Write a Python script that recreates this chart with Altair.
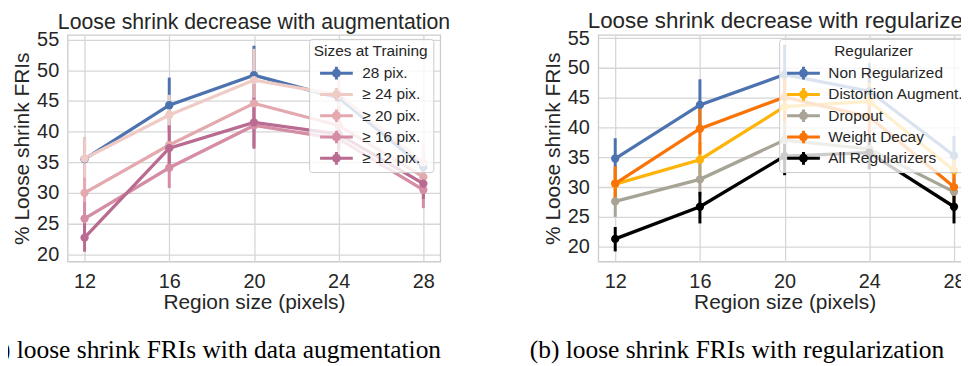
import altair as alt
import pandas as pd

# ---------------- data ----------------
region_sizes = [12, 16, 20, 24, 28]
y_ticks = [20, 25, 30, 35, 40, 45, 50, 55]

# Left panel: sizes at training
aug_series = ["28 pix.", "\u00a0≥ 24 pix.", "\u00a0≥ 20 pix.", "\u00a0≥ 16 pix.", "\u00a0≥ 12 pix."]
aug_colors = ["#4c72b0", "#efcbc6", "#e3a9ae", "#d48da3", "#b96b91"]
aug_28_mean = [35.5, 44.3, 49.2, 45.5, 34.2]
aug_28_lo = [32.0, 40.2, 44.6, 41.5, 31.5]
aug_28_hi = [39.0, 48.8, 54.0, 50.0, 37.2]
aug_24_mean = [35.6, 42.7, 48.4, 46.0, 35.0]
aug_24_lo = [32.0, 39.5, 43.5, 42.0, 32.0]
aug_24_hi = [39.0, 46.0, 53.5, 50.5, 38.0]
aug_20_mean = [30.0, 37.8, 44.6, 41.0, 32.6]
aug_20_lo = [27.5, 34.5, 40.0, 38.0, 30.5]
aug_20_hi = [32.5, 41.0, 49.0, 44.0, 34.5]
aug_16_mean = [25.8, 34.1, 41.0, 38.8, 30.5]
aug_16_lo = [23.5, 30.8, 37.5, 36.0, 27.5]
aug_16_hi = [28.5, 37.5, 44.5, 41.5, 33.0]
aug_12_mean = [22.7, 37.3, 41.5, 39.6, 31.5]
aug_12_lo = [20.4, 34.0, 37.2, 37.0, 29.0]
aug_12_hi = [25.0, 41.0, 45.5, 42.5, 34.0]

# Right panel: regularizers
reg_series = ["Non Regularized", "Distortion Augment.", "Dropout", "Weight Decay", "All Regularizers"]
reg_colors = ["#4c72b0", "#feb308", "#a8a495", "#f97306", "#000000"]
reg_non_mean = [34.8, 43.8, 48.9, 46.1, 35.3]
reg_non_lo = [31.5, 39.5, 44.0, 41.5, 32.0]
reg_non_hi = [38.2, 48.1, 53.9, 50.8, 38.6]
reg_dist_mean = [30.5, 34.6, 43.5, 44.4, 32.8]
reg_dist_lo = [28.0, 32.0, 40.0, 41.5, 30.5]
reg_dist_hi = [33.0, 37.5, 47.0, 47.5, 35.0]
reg_drop_mean = [27.6, 31.3, 37.9, 36.4, 29.2]
reg_drop_lo = [25.0, 28.5, 35.0, 33.0, 27.0]
reg_drop_hi = [30.0, 34.0, 41.0, 39.5, 31.5]
reg_wd_mean = [30.6, 39.8, 45.1, 41.8, 30.0]
reg_wd_lo = [27.5, 35.5, 41.0, 38.5, 27.5]
reg_wd_hi = [33.5, 43.5, 49.5, 45.0, 32.5]
reg_all_mean = [21.3, 26.7, 35.2, 35.8, 26.7]
reg_all_lo = [19.2, 23.9, 32.0, 33.0, 23.9]
reg_all_hi = [23.3, 29.2, 38.5, 38.5, 29.2]

caption_a = ["(a) loose shrink FRIs with data augmentation"]
caption_b = ["(b) loose shrink FRIs with regularization"]


def build_df(series, means, los, his):
    rows = []
    for s, m, lo, hi in zip(series, means, los, his):
        for i, x in enumerate(region_sizes):
            rows.append({"size": x, "series": s, "mean": m[i], "lo": lo[i], "hi": hi[i]})
    return pd.DataFrame(rows)


aug_df = build_df(
    aug_series,
    [aug_28_mean, aug_24_mean, aug_20_mean, aug_16_mean, aug_12_mean],
    [aug_28_lo, aug_24_lo, aug_20_lo, aug_16_lo, aug_12_lo],
    [aug_28_hi, aug_24_hi, aug_20_hi, aug_16_hi, aug_12_hi],
)
reg_df = build_df(
    reg_series,
    [reg_non_mean, reg_dist_mean, reg_drop_mean, reg_wd_mean, reg_all_mean],
    [reg_non_lo, reg_dist_lo, reg_drop_lo, reg_wd_lo, reg_all_lo],
    [reg_non_hi, reg_dist_hi, reg_drop_hi, reg_wd_hi, reg_all_hi],
)

TXT = "#262626"
SANS = "Liberation Sans"
# legend handle: line + error bar + dot (scaled by sqrt(symbolSize)/2 = 8 px)
SYMBOL = ("M-2.06,-0.2H2.06V0.2H-2.06Z M-0.19,-0.8H0.19V0.8H-0.19Z "
          "M-0.56,0A0.56,0.56 0 1,1 0.56,0A0.56,0.56 0 1,1 -0.56,0Z")
W, H = 375, 228


def panel(df, series, colors, title, title_size, legend_title, ydom, legend_x,
          sym_off, lab_off, caption, cap_x):
    xs = alt.Scale(domain=[11.2, 28.8], nice=False, zero=False)
    ys = alt.Scale(domain=ydom, nice=False, zero=False)
    cs = alt.Scale(domain=series, range=colors)
    xax = alt.Axis(values=region_sizes, title="Region size (pixels)",
                   titleBaseline="alphabetic", titleY=47,
                   labelBaseline="alphabetic", labelPadding=26)
    yax = alt.Axis(values=y_ticks, title="% Loose shrink FRIs", titleX=-39,
                   titleBaseline="alphabetic", labelPadding=9, labelOverlap=False)
    legend = alt.Legend(
        orient="none", legendX=legend_x, legendY=4, title=legend_title,
        titleFontSize=15.5, titleFontWeight="normal", titleColor=TXT, titleFont=SANS,
        titleAnchor="middle", titleAlign="center", titlePadding=6,
        labelFontSize=15.5, labelColor=TXT, labelFont=SANS, labelOffset=lab_off,
        symbolType=SYMBOL, symbolSize=256, symbolStrokeWidth=0, symbolOpacity=1,
        symbolOffset=sym_off, rowPadding=4.4, padding=5,
        fillColor="rgba(255,255,255,0.8)", strokeColor="#cccccc", cornerRadius=3,
    )
    color = alt.Color("series:N", scale=cs, legend=legend, title=legend_title)
    base = alt.Chart(df)
    rules = base.mark_rule(strokeWidth=3).encode(
        x=alt.X("size:Q", scale=xs, axis=xax),
        y=alt.Y("lo:Q", scale=ys, axis=yax),
        y2="hi:Q",
        color=color,
    )
    lines = base.mark_line(strokeWidth=3.3).encode(
        x=alt.X("size:Q", scale=xs, axis=xax),
        y=alt.Y("mean:Q", scale=ys, axis=yax),
        color=color,
    )
    points = base.mark_point(filled=True, size=70, opacity=1).encode(
        x=alt.X("size:Q", scale=xs, axis=xax),
        y=alt.Y("mean:Q", scale=ys, axis=yax),
        color=color,
    )
    cap = alt.Chart(pd.DataFrame({"t": caption})).mark_text(
        align="left", baseline="alphabetic", font="Liberation Serif",
        fontSize=25.6, color="black",
    ).encode(text="t:N", x=alt.value(cap_x), y=alt.value(325))
    return alt.layer(rules, lines, points, cap).properties(
        width=W, height=H,
        title=alt.TitleParams(text=title, fontSize=title_size, fontWeight="normal",
                              font=SANS, color=TXT, anchor="middle", frame="group",
                              offset=-4),
    )


left = panel(aug_df, aug_series, aug_colors, "Loose shrink decrease with augmentation",
             21.4, "Sizes at Training", [18.8, 55.76], 243, 7.5, 18, caption_a, -86)
right = panel(reg_df, reg_series, reg_colors, "Loose shrink decrease with regularizers",
              22.5, "Regularizer", [17.5, 55.55], 182, 11.5, 17, caption_b, -69)

chart = alt.hconcat(left, right, spacing=159, bounds="flush").resolve_scale(
    color="independent"
).properties(
    padding={"left": -27, "top": 0, "right": -22, "bottom": 0}
).configure(font=SANS).configure_view(
    stroke="#cccccc", strokeWidth=1.3
).configure_axis(
    grid=True, gridColor="#d6d6d6", gridWidth=1.3, domain=False, ticks=False, tickSize=0,
    labelFontSize=20, labelColor=TXT, labelFont=SANS,
    titleFontSize=21, titleFontWeight="normal", titleColor=TXT, titleFont=SANS,
)

chart.save("out.html", embed_options={"renderer": "svg", "actions": False})
